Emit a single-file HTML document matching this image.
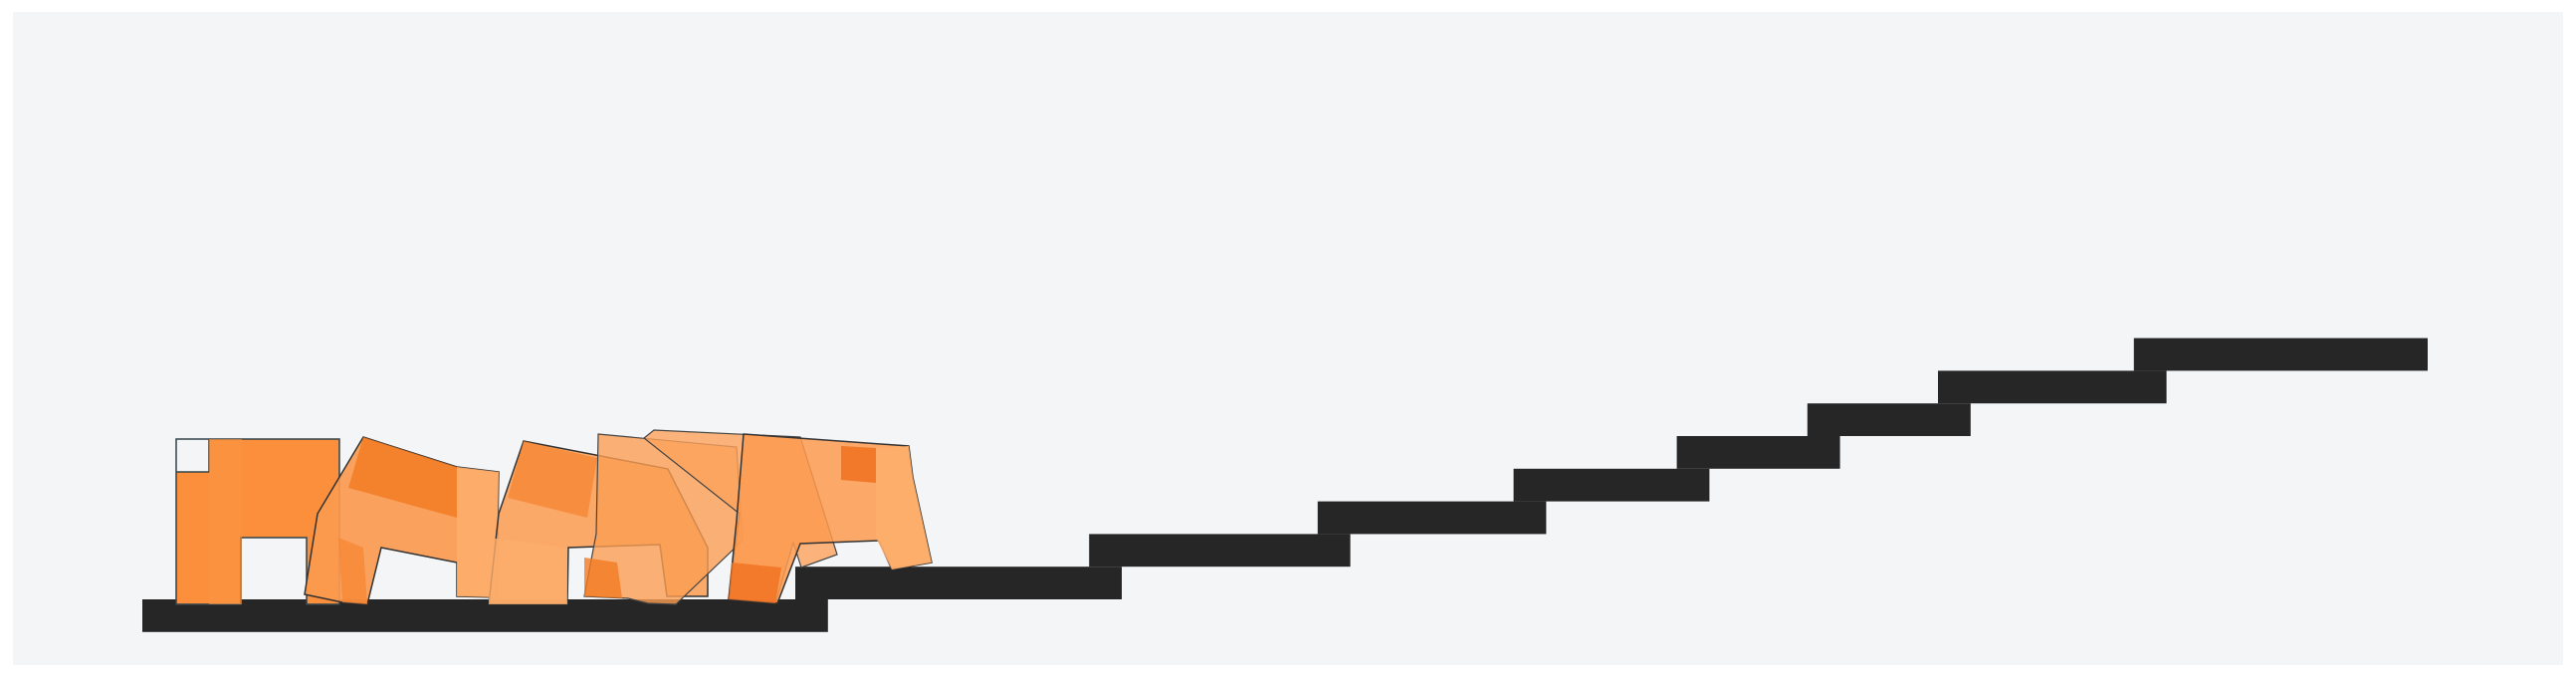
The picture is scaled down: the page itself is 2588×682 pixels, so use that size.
<!DOCTYPE html>
<html><head><meta charset="utf-8"><style>
html,body{margin:0;padding:0;background:#fff;width:2588px;height:682px;overflow:hidden}
svg{display:block}
</style></head><body>
<svg id="scene" width="2588" height="682" viewBox="0 0 2588 682" xmlns="http://www.w3.org/2000/svg">
<rect x="13" y="12" width="2562" height="656" fill="#f3f5f7"/>
<g id="terrain"></g>
<g id="robots">
  <g>
    <path d="M177,441 H341 V607 H308 V540 H242 V607 H177 Z M177,441 V474 H210 V441 Z" fill="#fb8f3c" fill-rule="evenodd" stroke="#33444a" stroke-width="1.5"/>
    <rect x="210" y="441" width="33" height="166" fill="#fc9443" opacity="0.6"/>
  </g>
  <g>
    <polygon points="365,439 459,469 501,474 499,600 459,599 459,565 383,550 369,607 344,605 306,597 319,516" fill="#fb9a4f" fill-opacity="0.92" stroke="#333" stroke-width="1.5"/>
    <polygon points="365,439 459,469 459,520 350,490" fill="#f27a22" opacity="0.8"/>
    <polygon points="459,469 501,474 499,600 459,599" fill="#fdad6b" opacity="0.9"/>
    <polygon points="340,540 365,550 369,607 344,605" fill="#f58430" opacity="0.7"/>
  </g>
  <g>
    <polygon points="526,443 671,471 711,550 711,599 670,599 663,547 571,550 570,607 491,607 501,516" fill="#fca158" fill-opacity="0.9" stroke="#333" stroke-width="1.5"/>
    <polygon points="526,443 600,460 590,520 510,500" fill="#f5832d" opacity="0.7"/>
    <polygon points="491,540 570,550 570,607 491,607" fill="#fdae6c" opacity="0.8"/>
  </g>
  <g>
    <polygon points="601,436 740,449 746,543 679,607 651,606 631,601 587,599 599,536" fill="#fb9d52" fill-opacity="0.8" stroke="#444" stroke-width="1.2"/>
    <polygon points="587,560 620,565 625,601 587,599" fill="#f27a22" opacity="0.8"/>
  </g>
  <g>
    <polygon points="657,432 804,439 841,557 805,570 797,545 779,606 732,602 743,516 647,440" fill="#fca35b" fill-opacity="0.8" stroke="#444" stroke-width="1.2"/>
  </g>
  <g>
    <polygon points="747,436 913,448 917,479 936,565 896,572 883,543 804,546 781,606 732,602 740,523" fill="#fb9a4f" fill-opacity="0.85" stroke="#333" stroke-width="1.5"/>
    <polygon points="845,448 880,450 880,485 845,482" fill="#f07020" opacity="0.85"/>
    <polygon points="880,450 913,448 917,479 936,565 896,572 880,540" fill="#fdae6c" opacity="0.9"/>
    <polygon points="735,565 785,570 779,606 732,602" fill="#f07020" opacity="0.8"/>
  </g>
</g>
<script>
// terrain steps in grid cells: left, right (cells from origin), level
var stepLeft = [0, 20, 29, 36, 42, 47, 51, 55, 61];
var stepRight = [21, 30, 37, 43, 48, 52, 56, 62, 70];
var stepLevel = [0, 1, 2, 3, 4, 5, 6, 7, 8];
var X0 = 143, Y0 = 602, CELL = 32.8;
function sx(c){ return X0 + c * CELL; }
function sy(l){ return Y0 - l * CELL; }
var g = document.getElementById('terrain');
for (var i = 0; i < stepLeft.length; i++) {
  var r = document.createElementNS('http://www.w3.org/2000/svg', 'rect');
  
  
  r.setAttribute('x', sx(stepLeft[i]));
  r.setAttribute('y', sy(stepLevel[i]));
  r.setAttribute('width', sx(stepRight[i]) - sx(stepLeft[i]));
  r.setAttribute('height', CELL);
  r.setAttribute('fill', '#262626');
  g.appendChild(r);
}
</script>
</svg>
</body></html>
